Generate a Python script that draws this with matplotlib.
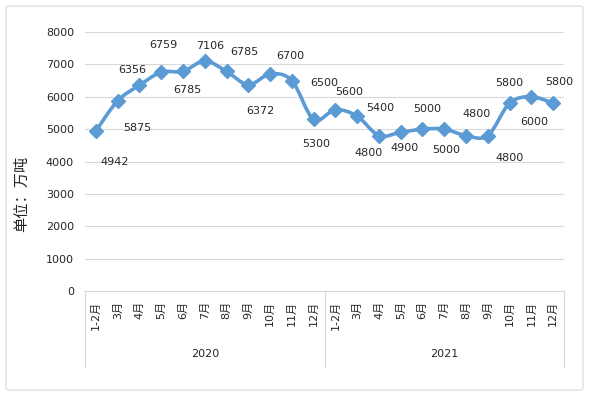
import matplotlib
matplotlib.use("Agg")
import matplotlib.pyplot as plt
from matplotlib.path import Path
from matplotlib.patches import PathPatch, FancyBboxPatch
import matplotlib.transforms as mtransforms
import numpy as np

plt.rcParams['font.family'] = ['DejaVu Sans', 'Noto Sans CJK SC']

months = ["1-2月", "3月", "4月", "5月", "6月", "7月", "8月", "9月", "10月", "11月", "12月"]
years = ["2020", "2021"]
categories = months + months
values = [4942, 5875, 6356, 6759, 6785, 7106, 6785, 6372, 6700, 6500, 5300,
          5600, 5400, 4800, 4900, 5000, 5000, 4800, 4800, 5800, 6000, 5800]
labels = ["4942", "5875", "6356", "6759", "6785", "7106", "6785", "6372", "6700", "6500", "5300",
          "5600", "5400", "4800", "4900", "5000", "5000", "4800", "4800", "5800", "6000", "5800"]
# label offsets in pixels (dx right, dy up)
offsets = [(19, -31), (20, -27), (-7, 15), (2, 27), (4, -19), (5, 15), (18, 19), (12, -26),
           (20, 18), (32, -2), (3, -25), (14, 18), (23, 8), (-10, -17), (4, -16), (5, 20),
           (2, -21), (11, 22), (22, -22), (0, 20), (3, -25), (6, 21)]
yticks = [0, 1000, 2000, 3000, 4000, 5000, 6000, 7000, 8000]

W, H = 589, 397
fig = plt.figure(figsize=(W / 100, H / 100), dpi=100)
ax = fig.add_axes([85 / W, 1 - 291 / H, (564 - 85) / W, (291 - 32) / H])

color = "#5B9BD5"
x = np.arange(len(values))
ax.set_xlim(-0.5, len(values) - 0.5)
ax.set_ylim(0, 8000)

# smoothed line (Catmull-Rom as cubic Bezier)
pts = np.column_stack([x, values]).astype(float)
verts = [tuple(pts[0])]
codes = [Path.MOVETO]
n = len(pts)
for i in range(n - 1):
    p0 = pts[i - 1] if i > 0 else pts[i]
    p1 = pts[i]
    p2 = pts[i + 1]
    p3 = pts[i + 2] if i + 2 < n else pts[i + 1]
    c1 = p1 + (p2 - p0) / 6.0
    c2 = p2 - (p3 - p1) / 6.0
    verts += [tuple(c1), tuple(c2), tuple(p2)]
    codes += [Path.CURVE4] * 3
ax.add_patch(PathPatch(Path(verts, codes), facecolor="none", edgecolor=color, lw=2.6,
                       capstyle="round", joinstyle="round", zorder=3))
ax.plot(x, values, linestyle="none", marker="D", markersize=7, color=color, zorder=4)

for xi, v, lab, (dx, dy) in zip(x, values, labels, offsets):
    ax.annotate(lab, (xi, v), xytext=(dx, dy), textcoords="offset pixels",
                ha="center", va="center", fontsize=8, color="#262626")

ax.set_yticks(yticks)
ax.set_yticklabels([str(t) for t in yticks], fontsize=8, color="#262626")
ax.yaxis.grid(True, color="#d9d9d9", lw=0.8)
ax.set_axisbelow(True)
ax.tick_params(axis="y", length=0, pad=8)
ax.set_xticks(x)
ax.set_xticklabels(categories, rotation=90, fontsize=8, color="#262626", va="top")
ax.tick_params(axis="x", length=0, pad=7)
for s in ["top", "right", "left"]:
    ax.spines[s].set_visible(False)
ax.spines["bottom"].set_color("#d9d9d9")

trans = mtransforms.blended_transform_factory(ax.transData, ax.transAxes)
for bx in [-0.5, 10.5, 21.5]:
    ax.plot([bx, bx], [0, -0.293], transform=trans, color="#d9d9d9", lw=0.8, clip_on=False)
for gi, yr in enumerate(years):
    ax.text(gi * 11 + 5, -0.243, yr, transform=trans, ha="center", va="center",
            fontsize=8, color="#262626")

fig.text(22 / W, 1 - 194 / H, "单位：万吨", rotation=90, ha="center", va="center",
         fontsize=11, color="#262626")

fig.patches.append(FancyBboxPatch((6 / W, 1 - 390 / H), (583 - 6) / W, (390 - 6) / H,
                                  boxstyle="round,pad=0,rounding_size=0.005",
                                  transform=fig.transFigure, facecolor="none",
                                  edgecolor="#d9d9d9", lw=0.8))

fig.savefig("out.png", dpi=100)
